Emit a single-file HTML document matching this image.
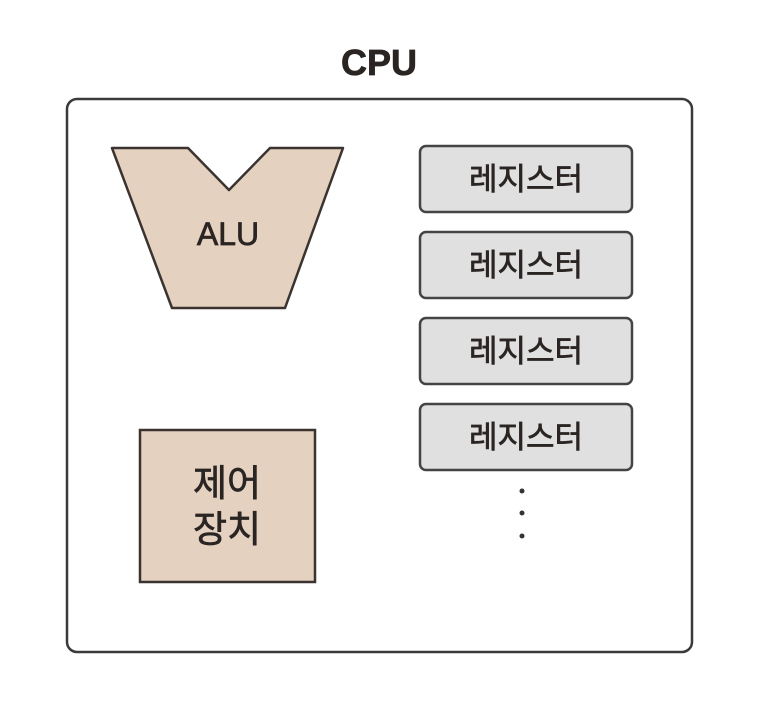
<!DOCTYPE html>
<html><head><meta charset="utf-8"><style>
html,body{margin:0;padding:0;background:#fff;}
text{font-family:"Liberation Sans","Noto Sans CJK KR",sans-serif;fill:#2a2523;stroke:#2a2523;stroke-width:0.7;}
</style></head><body>
<svg width="760" height="702" viewBox="0 0 760 702" xmlns="http://www.w3.org/2000/svg">
<rect width="760" height="702" fill="#fff"/>
<text x="379" y="75" font-size="36" font-weight="bold" text-anchor="middle">CPU</text>
<rect x="67" y="99" width="625" height="553" rx="10" fill="#fff" stroke="#3a3a3a" stroke-width="2.5"/>
<polygon points="112,148 188,148 229,190 270,148 343,148 285,308 172,308" fill="#e4d1c0" stroke="#3a3330" stroke-width="2.5" stroke-linejoin="round"/>
<text x="228" y="245" font-size="32" text-anchor="middle">ALU</text>
<g fill="#e0e0e0" stroke="#444" stroke-width="2.5">
<rect x="420" y="146" width="212" height="66" rx="6"/>
<rect x="420" y="232" width="212" height="66" rx="6"/>
<rect x="420" y="318" width="212" height="66" rx="6"/>
<rect x="420" y="404" width="212" height="66" rx="6"/>
</g>
<g font-size="31" text-anchor="middle">
<text x="526" y="190">레지스터</text>
<text x="526" y="276">레지스터</text>
<text x="526" y="362">레지스터</text>
<text x="526" y="448">레지스터</text>
</g>
<rect x="140" y="430" width="175" height="152" fill="#e4d1c0" stroke="#3a3330" stroke-width="2.5"/>
<text x="227" y="496" font-size="37" text-anchor="middle">제어</text>
<text x="227" y="542" font-size="37" text-anchor="middle">장치</text>
<g fill="#333">
<circle cx="522" cy="491" r="2.5"/>
<circle cx="522" cy="513" r="2.5"/>
<circle cx="522" cy="536" r="2.5"/>
</g>
</svg>
</body></html>
